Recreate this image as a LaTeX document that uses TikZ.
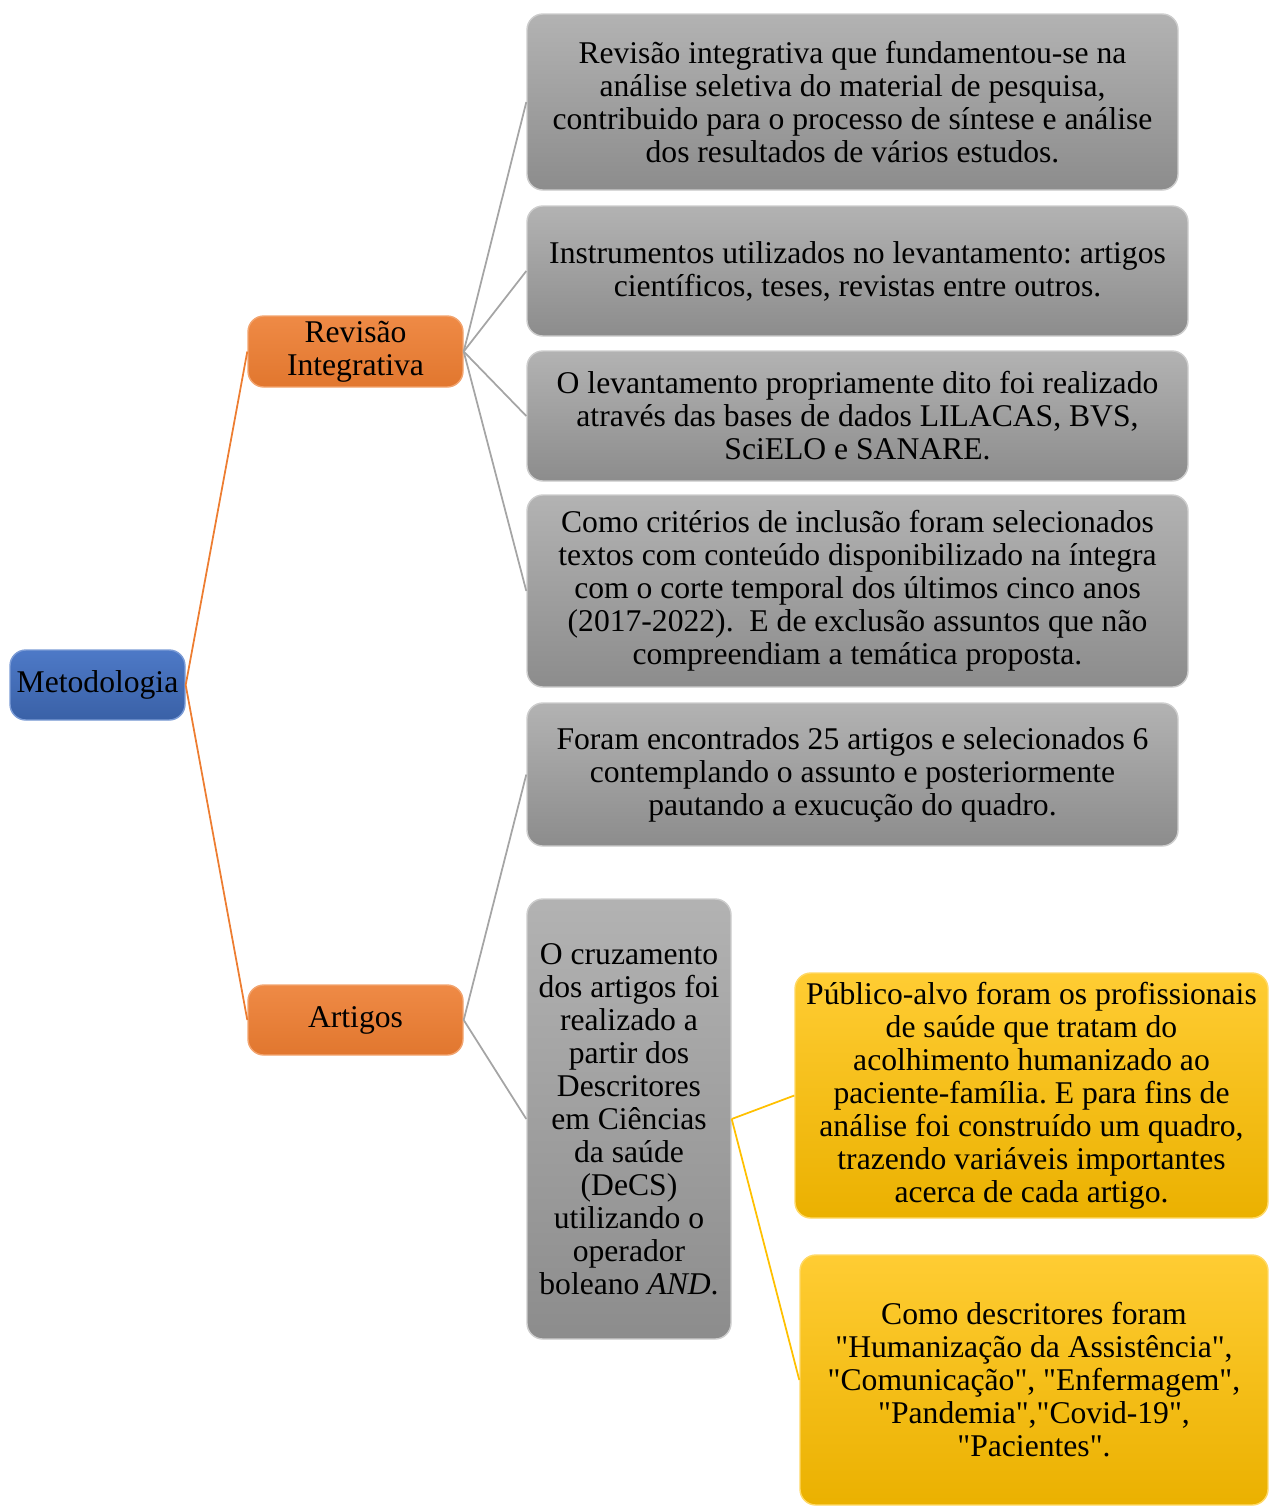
\documentclass[tikz,border=0pt]{standalone}
\usepackage{fontspec}
\setmainfont{Liberation Serif}[Ligatures=TeXOff]
\usepackage{tikz}
\usetikzlibrary{positioning}
\usepackage{xcolor}
\definecolor{metoBlue}{RGB}{68, 114, 196}
\definecolor{ramoOrange}{RGB}{237, 125, 49}
\definecolor{itemGray}{RGB}{165, 165, 165}
\definecolor{itemGold}{RGB}{255, 192, 0}
\frenchspacing

\begin{document}
\begin{tikzpicture}[x=0.02cm, y=-0.02cm,
    font=\fontsize{18}{18.8}\selectfont,
    caixa/.style={draw, rounded corners=9pt, align=center, inner sep=2pt, line width=0.8pt},
    metobox/.style={caixa, draw=metoBlue!70, top color=metoBlue!95!white, bottom color=metoBlue!85!black},
    ramobox/.style={caixa, draw=ramoOrange!70, top color=ramoOrange!90!white, bottom color=ramoOrange!95!black},
    itembox/.style={caixa, draw=itemGray!55, top color=itemGray!85!white, bottom color=itemGray!85!black},
    goldbox/.style={caixa, draw=itemGold!60, top color=itemGold!80!white, bottom color=itemGold!92!black},
    ligacao/.style={line width=1pt}]
  \useasboundingbox (0,0) rectangle (1281,1509);

  \node[metobox, minimum width=175*0.02cm, minimum height=70*0.02cm] (meto) at (97.5,685) {Metodologia};
  \node[ramobox, minimum width=215*0.02cm, minimum height=71*0.02cm] (rev) at (355.5,351.5) {Revisão\\Integrativa};
  \node[ramobox, minimum width=215*0.02cm, minimum height=70*0.02cm] (art) at (355.5,1020) {Artigos};

  \node[itembox, minimum width=651*0.02cm, minimum height=176*0.02cm] (fund) at (852.5,102)
    {Revisão integrativa que fundamentou-se na\\análise seletiva do material de pesquisa,\\contribuido para o processo de síntese e análise\\dos resultados de vários estudos.};
  \node[itembox, minimum width=661*0.02cm, minimum height=130*0.02cm] (instr) at (857.5,271)
    {Instrumentos utilizados no levantamento: artigos\\científicos, teses, revistas entre outros.};
  \node[itembox, minimum width=661*0.02cm, minimum height=130*0.02cm] (bases) at (857.5,416)
    {O levantamento propriamente dito foi realizado\\através das bases de dados LILACAS, BVS,\\SciELO e SANARE.};
  \node[itembox, minimum width=661*0.02cm, minimum height=192*0.02cm] (crit) at (857.5,591)
    {Como critérios de inclusão foram selecionados\\textos com conteúdo disponibilizado na íntegra\\com o corte temporal dos últimos cinco anos\\(2017-2022).\ \ E de exclusão assuntos que não\\compreendiam a temática proposta.};
  \node[itembox, minimum width=651*0.02cm, minimum height=143*0.02cm] (enc) at (852.5,774.5)
    {Foram encontrados 25 artigos e selecionados 6\\contemplando o assunto e posteriormente\\pautando a exucução do quadro.};
  \node[itembox, minimum width=204*0.02cm, minimum height=440*0.02cm] (cruz) at (629,1119)
    {O cruzamento\\dos artigos foi\\realizado a\\partir dos\\Descritores\\em Ciências\\da saúde\\(DeCS)\\utilizando o\\operador\\boleano \textit{AND}.};

  \node[goldbox, minimum width=473*0.02cm, minimum height=245*0.02cm] (publ) at (1031.5,1095.5)
    {Público-alvo foram os profissionais\\de saúde que tratam do\\acolhimento humanizado ao\\paciente-família. E para fins de\\análise foi construído um quadro,\\trazendo variáveis importantes\\acerca de cada artigo.};
  \node[goldbox, minimum width=468*0.02cm, minimum height=250*0.02cm] (desc) at (1034,1380)
    {Como descritores foram\\"Humanização da Assistência",\\"Comunicação", "Enfermagem",\\"Pandemia","Covid-19",\\"Pacientes".};

  \draw[ligacao, ramoOrange] (meto.east) -- (rev.west);
  \draw[ligacao, ramoOrange] (meto.east) -- (art.west);
  \draw[ligacao, itemGray] (rev.east) -- (fund.west);
  \draw[ligacao, itemGray] (rev.east) -- (instr.west);
  \draw[ligacao, itemGray] (rev.east) -- (bases.west);
  \draw[ligacao, itemGray] (rev.east) -- (crit.west);
  \draw[ligacao, itemGray] (art.east) -- (enc.west);
  \draw[ligacao, itemGray] (art.east) -- (cruz.west);
  \draw[ligacao, itemGold] (cruz.east) -- (publ.west);
  \draw[ligacao, itemGold] (cruz.east) -- (desc.west);
\end{tikzpicture}
\end{document}
